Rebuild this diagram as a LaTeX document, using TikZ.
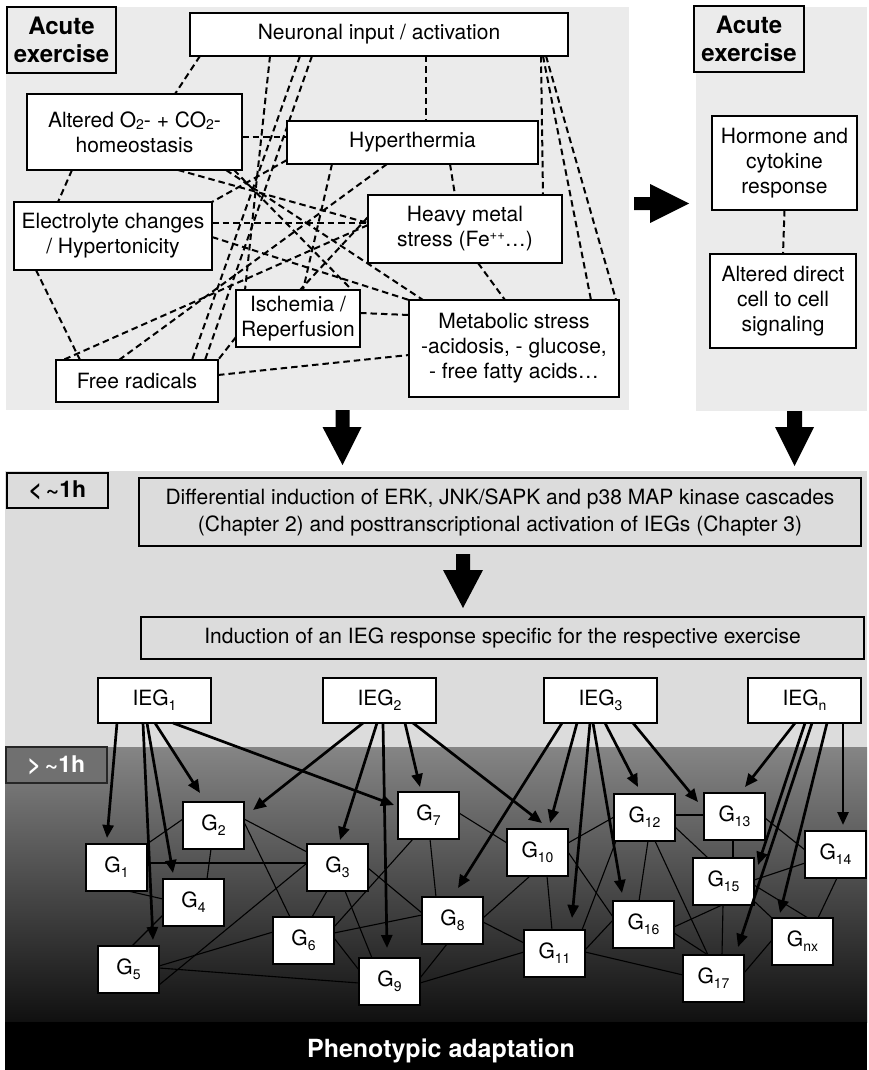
\documentclass[tikz,border=0pt]{standalone}
\usepackage{fontspec}
\setmainfont{TeX Gyre Heros}
\usetikzlibrary{arrows.meta}
\definecolor{pA}{HTML}{EBEBEB}
\definecolor{pB}{HTML}{DCDCDC}
\definecolor{gT}{HTML}{858585}
\definecolor{gB}{HTML}{101010}
\newcommand\Sb[1]{\raisebox{-5pt}{\fontsize{14}{14}\selectfont #1}}
\newcommand\Sc[1]{\raisebox{-2.5pt}{\fontsize{14}{14}\selectfont #1}}
\newcommand\Sp[1]{\raisebox{7pt}{\fontsize{13}{13}\selectfont #1}}
\newcommand\cpt[3]{([shift={(#2,#3)}]#1.north west)}
\begin{document}
\begin{tikzpicture}[x=1pt,y=-1pt,
  bx/.style={draw=black, line width=1.6pt, fill=white, inner sep=0pt, outer sep=0pt, align=center, font=\fontsize{21}{25}\selectfont},
  gb/.style={bx, minimum width=61pt, minimum height=47pt},
  ieg/.style={bx, minimum width=113pt, minimum height=45pt},
  lab/.style={draw=black, line width=1.3pt, inner sep=0pt, outer sep=0pt, align=center, font=\fontsize{24}{28}\selectfont\bfseries},
  dsh/.style={line width=2pt, dash pattern=on 6.5pt off 4pt},
  thn/.style={line width=1.1pt},
  arr/.style={line width=2.7pt, -{Triangle[length=13pt,width=11pt]}}]
\useasboundingbox (0,0) rectangle (869,1070);
\fill[white] (0,0) rectangle (869,1070);
% panels
\fill[pA] (6,7) rectangle (629,410);
\fill[pA] (696,7) rectangle (867,411);
\fill[pB] (5,471) rectangle (867,747);
\shade[top color=gT, bottom color=gB] (5,747) rectangle (867,1022);
\fill[black] (5,1022) rectangle (867,1070);

% top-left network boxes
\path
 node[bx, minimum width=378pt, minimum height=43pt] (N) at (379,34.5) {Neuronal input / activation}
 node[bx, minimum width=215pt, minimum height=76pt] (O) at (134.5,132) {Altered O\Sc{2}- + CO\Sc{2}-\\homeostasis}
 node[bx, minimum width=251pt, minimum height=43pt] (H) at (412.5,142.5) {Hyperthermia}
 node[bx, minimum width=198pt, minimum height=68pt] (E) at (113,236) {Electrolyte changes\\/ Hypertonicity}
 node[bx, minimum width=194pt, minimum height=68pt] (M) at (465,229) {Heavy metal\\stress (Fe\Sp{++}…)}
 node[bx, minimum width=124pt, minimum height=57pt] (I) at (298,318.5) {Ischemia /\\Reperfusion}
 node[bx, minimum width=210pt, minimum height=97pt] (S) at (514,348.5) {Metabolic stress\\-acidosis, - glucose,\\- free fatty acids…}
 node[bx, minimum width=162pt, minimum height=42pt] (F) at (137,381) {Free radicals};

% dashed connections
\draw[dsh] \cpt{N}{10}{43} -- \cpt{O}{148}{0};
\draw[dsh] \cpt{N}{80}{43} -- \cpt{I}{9}{0};
\draw[dsh] \cpt{N}{110}{43} -- \cpt{F}{136}{0};
\draw[dsh] \cpt{N}{122}{43} -- \cpt{F}{149}{0};
\draw[dsh] \cpt{N}{236}{43} -- \cpt{H}{139}{0};
\draw[dsh] \cpt{N}{351}{43} -- \cpt{M}{175}{0};
\draw[dsh] \cpt{N}{353}{43} -- \cpt{S}{182}{0};
\draw[dsh] \cpt{N}{356}{43} -- \cpt{S}{207}{0};
\draw[dsh] \cpt{O}{215}{43} -- \cpt{H}{0}{16};
\draw[dsh] \cpt{O}{45}{76} -- \cpt{E}{44}{0};
\draw[dsh] \cpt{O}{151}{76} -- \cpt{M}{0}{28};
\draw[dsh] \cpt{O}{199}{76} -- \cpt{S}{14}{0};
\draw[dsh] \cpt{O}{207}{76} -- \cpt{I}{116}{0};
\draw[dsh] \cpt{H}{0}{39} -- \cpt{E}{198}{0};
\draw[dsh] \cpt{H}{45}{43} -- \cpt{I}{67}{0};
\draw[dsh] \cpt{H}{100}{43} -- \cpt{F}{63}{0};
\draw[dsh] \cpt{H}{163}{43} -- \cpt{M}{87}{0};
\draw[dsh] \cpt{E}{198}{21} -- \cpt{M}{0}{28};
\draw[dsh] \cpt{E}{198}{35} -- \cpt{S}{0}{0};
\draw[dsh] \cpt{E}{22}{68} -- \cpt{F}{24}{0};
\draw[dsh] \cpt{M}{0}{22} -- \cpt{I}{64}{0};
\draw[dsh] \cpt{M}{0}{30} -- \cpt{F}{7}{0};
\draw[dsh] \cpt{M}{110}{68} -- \cpt{S}{96}{0};
\draw[dsh] \cpt{I}{124}{23} -- \cpt{S}{0}{15};
\draw[dsh] \cpt{I}{0}{47} -- \cpt{F}{162}{0};
\draw[dsh] \cpt{F}{162}{15} -- \cpt{S}{0}{55};

% redraw boxes on top
\node[bx, minimum width=378pt, minimum height=43pt] at (379,34.5) {Neuronal input / activation};
\node[bx, minimum width=215pt, minimum height=76pt] at (134.5,132) {Altered O\Sc{2}- + CO\Sc{2}-\\homeostasis};
\node[bx, minimum width=251pt, minimum height=43pt] at (412.5,142.5) {Hyperthermia};
\node[bx, minimum width=198pt, minimum height=68pt] at (113,236) {Electrolyte changes\\/ Hypertonicity};
\node[bx, minimum width=194pt, minimum height=68pt] at (465,229) {Heavy metal\\stress (Fe\Sp{++}…)};
\node[bx, minimum width=124pt, minimum height=57pt] at (298,318.5) {Ischemia /\\Reperfusion};
\node[bx, minimum width=210pt, minimum height=97pt] at (514,348.5) {Metabolic stress\\-acidosis, - glucose,\\- free fatty acids…};
\node[bx, minimum width=162pt, minimum height=42pt] at (137,381) {Free radicals};

% labels
\node[lab, fill=pA, minimum width=109pt, minimum height=66pt] (LA) at (61.5,40) {Acute\\exercise};
\node[lab, fill=pA, minimum width=110pt, minimum height=66pt] (RA) at (749,39) {Acute\\exercise};

% right panel
\node[bx, minimum width=145pt, minimum height=94pt] (HC) at (784.5,163) {Hormone and\\cytokine\\response};
\node[bx, minimum width=146pt, minimum height=94pt] (AD) at (783,301) {Altered direct\\cell to cell\\signaling};
\draw[dsh] (HC.south) -- (AD.north);

% big arrows
\fill[black] (634,197) -- (650,197) -- (650,184) -- (689,203.5) -- (650,223) -- (650,210) -- (634,210) -- cycle;
\fill[black] (335.5,410) -- (349.5,410) -- (349.5,427) -- (361.5,427) -- (342.5,465) -- (322.5,427) -- (335.5,427) -- cycle;
\fill[black] (787,411) -- (802,411) -- (802,427) -- (814,427) -- (794.5,466) -- (775,427) -- (787,427) -- cycle;
\fill[black] (456,554) -- (470,554) -- (470,570) -- (483,570) -- (463,608) -- (443,570) -- (456,570) -- cycle;

% lower boxes
\node[lab, fill=pB, font=\fontsize{23}{26}\selectfont\bfseries, minimum width=101pt, minimum height=35pt] (LT) at (57.5,490.5) {<\,\textasciitilde1h};
\node[lab, fill=black!56, draw=black!85, text=white, font=\fontsize{23}{26}\selectfont\bfseries, minimum width=101pt, minimum height=36pt] (GT) at (56.5,765) {>\,\textasciitilde1h};
\node[bx, fill=pB, minimum width=722pt, minimum height=68pt, font=\fontsize{21}{27}\selectfont] (D) at (500,512) {Differential induction of ERK, JNK/SAPK and p38 MAP kinase cascades\\(Chapter 2) and posttranscriptional activation of IEGs (Chapter 3)};
\node[bx, fill=pB, minimum width=723pt, minimum height=42pt] (IND) at (502.5,638) {Induction of an IEG response specific for the respective exercise};

\node[ieg] (IEG1) at (154.5,700.5) {IEG\Sb{1}};
\node[ieg] (IEG2) at (379.5,700.5) {IEG\Sb{2}};
\node[ieg] (IEG3) at (600.5,700.5) {IEG\Sb{3}};
\node[ieg] (IEGn) at (804.5,700.5) {IEG\Sb{n}};

% gene nodes (positions)
\path
 node[gb] (G1) at (116.5,867.5) {G\Sb{1}}
 node[gb] (G2) at (213.5,825.5) {G\Sb{2}}
 node[gb] (G3) at (337.5,867.5) {G\Sb{3}}
 node[gb] (G4) at (193.5,902.5) {G\Sb{4}}
 node[gb] (G5) at (128.5,969.5) {G\Sb{5}}
 node[gb] (G6) at (303.5,940.5) {G\Sb{6}}
 node[gb] (G7) at (428.5,815.5) {G\Sb{7}}
 node[gb] (G8) at (452.5,920.5) {G\Sb{8}}
 node[gb] (G9) at (389.5,981.5) {G\Sb{9}}
 node[gb] (G10) at (537.5,852.5) {G\Sb{10}}
 node[gb] (G11) at (554.5,953.5) {G\Sb{11}}
 node[gb] (G12) at (644.5,817.5) {G\Sb{12}}
 node[gb] (G13) at (734.5,816.5) {G\Sb{13}}
 node[gb] (G14) at (835.5,854.5) {G\Sb{14}}
 node[gb] (G15) at (723.5,881.5) {G\Sb{15}}
 node[gb] (G16) at (643.5,924.5) {G\Sb{16}}
 node[gb] (G17) at (713.5,978.5) {G\Sb{17}}
 node[gb] (Gnx) at (802.5,941.5) {G\Sb{nx}};

% thin gene links
\draw[thn] \cpt{G1}{61}{0} -- \cpt{G2}{0}{17};
\draw[thn] \cpt{G1}{61}{19} -- \cpt{G3}{0}{19};
\draw[thn] \cpt{G1}{42}{47} -- \cpt{G4}{0}{20};
\draw[thn] \cpt{G2}{28}{47} -- \cpt{G4}{44}{0};
\draw[thn] \cpt{G2}{61}{17} -- \cpt{G3}{0}{8};
\draw[thn] \cpt{G2}{61}{20} -- \cpt{G6}{17}{0};
\draw[thn] \cpt{G4}{0}{36} -- \cpt{G5}{34}{0};
\draw[thn] \cpt{G5}{61}{39} -- \cpt{G3}{0}{19};
\draw[thn] \cpt{G5}{61}{20} -- \cpt{G6}{0}{15};
\draw[thn] \cpt{G5}{61}{22} -- \cpt{G9}{0}{25};
\draw[thn] \cpt{G3}{20}{47} -- \cpt{G6}{39}{0};
\draw[thn] \cpt{G3}{38}{47} -- \cpt{G9}{13}{0};
\draw[thn] \cpt{G3}{61}{24} -- \cpt{G8}{0}{16};
\draw[thn] \cpt{G6}{61}{10} -- \cpt{G7}{15}{47};
\draw[thn] \cpt{G6}{61}{21} -- \cpt{G9}{0}{12};
\draw[thn] \cpt{G7}{32}{47} -- \cpt{G8}{14}{0};
\draw[thn] \cpt{G6}{61}{16} -- \cpt{G8}{0}{18};
\draw[thn] \cpt{G8}{61}{21} -- \cpt{G10}{23}{47};
\draw[thn] \cpt{G8}{61}{25} -- \cpt{G11}{0}{13};
\draw[thn] \cpt{G8}{25}{47} -- \cpt{G9}{61}{20};
\draw[thn] \cpt{G9}{61}{25} -- \cpt{G11}{0}{22};
\draw[thn] \cpt{G7}{61}{21} -- \cpt{G10}{0}{14};
\draw[thn] \cpt{G10}{40}{47} -- \cpt{G11}{28}{0};
\draw[thn] \cpt{G10}{61}{14} -- \cpt{G12}{0}{23};
\draw[thn] \cpt{G10}{61}{23} -- \cpt{G16}{0}{16};
\draw[thn] \cpt{G11}{58}{0} -- \cpt{G12}{2}{47};
\draw[thn] \cpt{G11}{61}{20} -- \cpt{G16}{0}{19};
\draw[thn] \cpt{G11}{61}{22} -- \cpt{G17}{0}{20};
\draw[thn] \cpt{G12}{61}{21} -- \cpt{G13}{0}{22};
\draw[thn] \cpt{G12}{34}{47} -- \cpt{G16}{26}{0};
\draw[thn] \cpt{G12}{41}{47} -- \cpt{G17}{25}{0};
\draw[thn] \cpt{G12}{61}{33} -- \cpt{Gnx}{0}{0};
\draw[thn] \cpt{G13}{29}{47} -- \cpt{G15}{40}{0};
\draw[thn] \cpt{G13}{61}{25} -- \cpt{G14}{0}{19};
\draw[thn] \cpt{G14}{0}{32} -- \cpt{G15}{61}{22};
\draw[thn] \cpt{G14}{32}{47} -- \cpt{Gnx}{46}{0};
\draw[thn] \cpt{G15}{29}{47} -- \cpt{G16}{61}{26};
\draw[thn] \cpt{G15}{30}{47} -- \cpt{G17}{39}{0};
\draw[thn] \cpt{G15}{61}{27} -- \cpt{Gnx}{36}{0};
\draw[thn] \cpt{G16}{61}{32} -- \cpt{G17}{25}{0};
\draw[thn] \cpt{G17}{61}{18} -- \cpt{Gnx}{0}{22};

% redraw gene boxes on top of links
\foreach \nm/\cx/\cy/\lb in {G1/116.5/867.5/1, G2/213.5/825.5/2, G3/337.5/867.5/3, G4/193.5/902.5/4, G5/128.5/969.5/5, G6/303.5/940.5/6, G7/428.5/815.5/7, G8/452.5/920.5/8, G9/389.5/981.5/9, G10/537.5/852.5/10, G11/554.5/953.5/11, G12/644.5/817.5/12, G13/734.5/816.5/13, G14/835.5/854.5/14, G15/723.5/881.5/15, G16/643.5/924.5/16, G17/713.5/978.5/17, Gnx/802.5/941.5/nx}
  \node[gb] at (\cx,\cy) {G\Sb{\lb}};

% IEG arrows
\draw[arr] \cpt{IEG1}{19}{45} -- \cpt{G1}{21}{-6};
\draw[arr] \cpt{IEG1}{45}{45} -- \cpt{G5}{55}{-6};
\draw[arr] \cpt{IEG1}{49}{45} -- \cpt{G4}{10}{-6};
\draw[arr] \cpt{IEG1}{57}{45} -- \cpt{G2}{17}{-9};
\draw[arr] \cpt{IEG1}{75}{45} -- \cpt{G7}{-4}{13};
\draw[arr] \cpt{IEG2}{40}{45} -- \cpt{G2}{70}{8};
\draw[arr] \cpt{IEG2}{54}{45} -- \cpt{G3}{33}{-4};
\draw[arr] \cpt{IEG2}{60}{45} -- \cpt{G9}{28}{-10};
\draw[arr] \cpt{IEG2}{82}{45} -- \cpt{G7}{22}{-5};
\draw[arr] \cpt{IEG2}{90}{45} -- \cpt{G10}{35}{-6};
\draw[arr] \cpt{IEG3}{18}{45} -- \cpt{G8}{36}{-9};
\draw[arr] \cpt{IEG3}{33}{45} -- \cpt{G10}{43}{-6};
\draw[arr] \cpt{IEG3}{46}{45} -- \cpt{G11}{48}{-12};
\draw[arr] \cpt{IEG3}{49}{45} -- \cpt{G16}{9}{-8};
\draw[arr] \cpt{IEG3}{61}{45} -- \cpt{G12}{24}{-7};
\draw[arr] \cpt{IEG3}{89}{45} -- \cpt{G13}{-6}{9};
\draw[arr] \cpt{IEGn}{47}{45} -- \cpt{G13}{41}{-6};
\draw[arr] \cpt{IEGn}{57}{45} -- \cpt{G15}{65}{7};
\draw[arr] \cpt{IEGn}{64}{45} -- \cpt{G17}{55}{-8};
\draw[arr] \cpt{IEGn}{79}{45} -- \cpt{Gnx}{8}{-5};
\draw[arr] \cpt{IEGn}{95}{45} -- \cpt{G14}{38}{-6};

\node[text=white, font=\fontsize{25}{30}\selectfont\bfseries] (PA) at (441,1051) {Phenotypic adaptation};
\end{tikzpicture}
\end{document}
